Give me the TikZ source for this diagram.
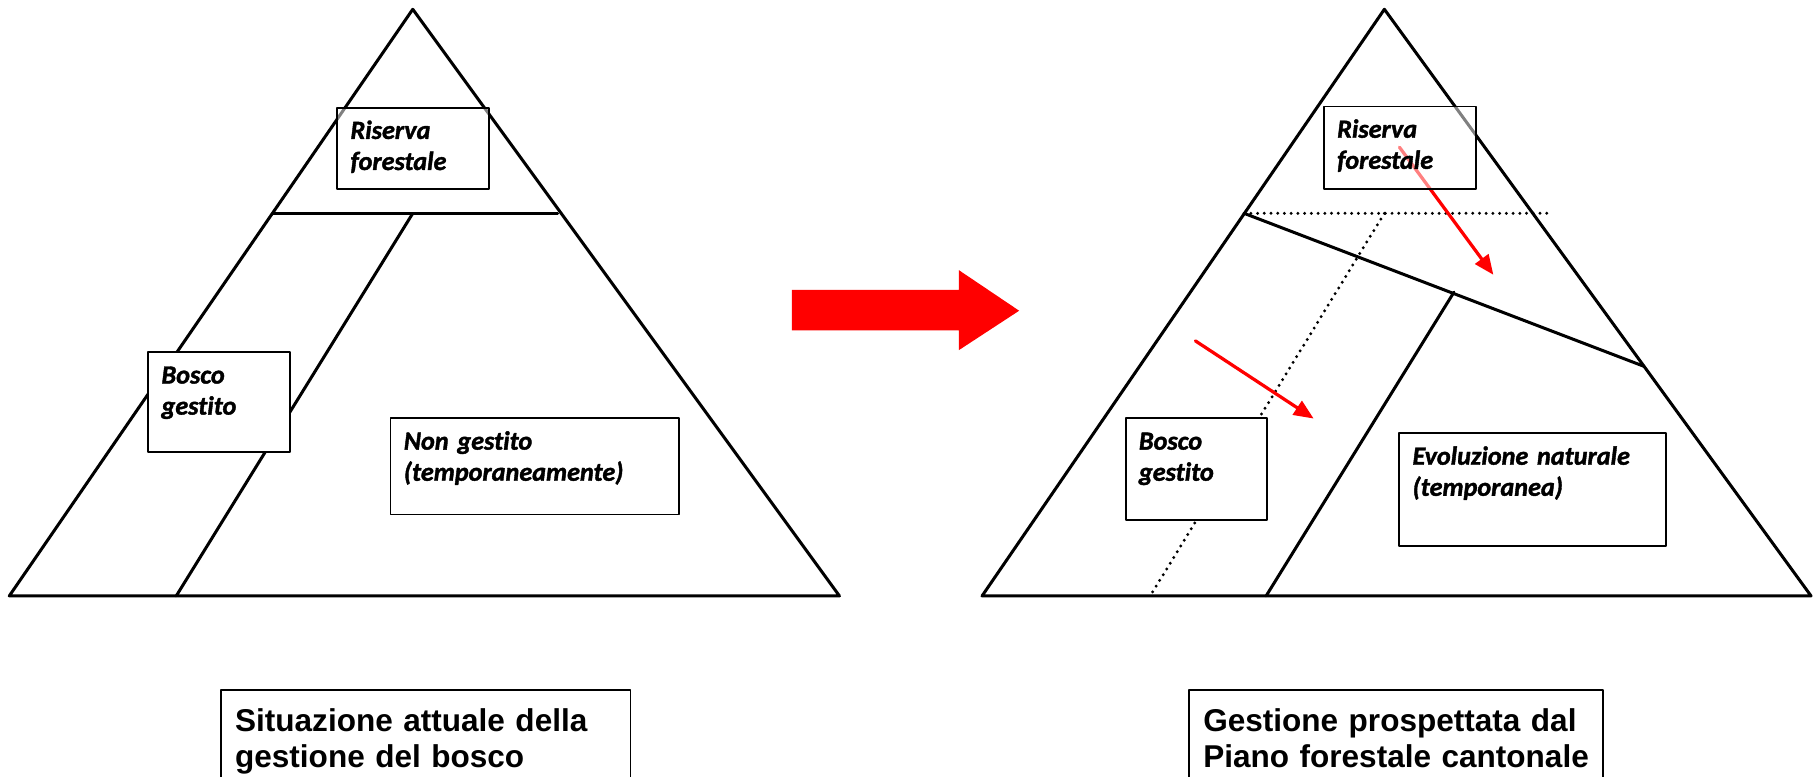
\documentclass[tikz,border=0pt]{standalone}
\usepackage{fontspec}
\newfontfamily\calfont{Carlito}[Ligatures=CommonOff,BoldItalicFeatures={FakeBold=1.5}]
\newfontfamily\arifont{Liberation Sans}
\usetikzlibrary{arrows.meta}
\definecolor{ffqqqq}{rgb}{1.,0.,0.}
\tikzset{
  tagbox/.style={draw=black,line width=1.6pt,fill=white,anchor=north west,
    inner xsep=11.5pt,inner ysep=0pt,text height=27pt,text depth=#1,align=left,
    font=\calfont\bfseries\itshape\fontsize{22.6}{26.8}\selectfont},
  titlebox/.style={draw=black,line width=1.6pt,fill=white,anchor=north west,
    inner xsep=12pt,inner ysep=0pt,text height=36pt,text depth=80pt,align=left,
    font=\arifont\bfseries\fontsize{27.2}{31}\selectfont},
  dots/.style={line width=2.8pt,dash pattern=on 0pt off 5.8pt}
}
\begin{document}
\begin{tikzpicture}[line cap=round,line join=round,>={Triangle[length=17pt,width=14pt]},x=1pt,y=1pt,line width=2.6pt]
\clip(0,0) rectangle (1568,670);
\coordinate (la) at (356,662);
\coordinate (lb) at (8,156);
\coordinate (lc) at (724,156);
\coordinate (lh1) at (235,486);
\coordinate (lh2) at (481,486);
\coordinate (ld1) at (356,486);
\coordinate (ld2) at (152,156);
\draw (la)-- (lb)-- (lc)-- cycle;
\draw (lh1)-- (lh2);
\draw (ld1)-- (ld2);
\fill [ffqqqq] (683,385)-- (827,385)-- (827,368)-- (879,402)-- (827,437)-- (827,420)-- (683,420)-- cycle;
\coordinate (ra) at (1194,662);
\coordinate (rb) at (847,156);
\coordinate (rc) at (1562,156);
\coordinate (rh1) at (1073,486);
\coordinate (rh2) at (1337,486);
\coordinate (rh3) at (1418,354);
\coordinate (rd1) at (1194,486);
\coordinate (rd2) at (992,156);
\coordinate (rs1) at (1254,418);
\coordinate (rs2) at (1092,156);
\draw (ra)-- (rb)-- (rc)-- cycle;
\draw [dots] (rh1)-- (rh2);
\draw [dots] (rd1)-- (rd2);
\draw (rh1)-- (rh3);
\draw (rs1)-- (rs2);
\coordinate (ar1) at (1207,543);
\coordinate (ar2) at (1288,433);
\coordinate (ar3) at (1031,376);
\coordinate (ar4) at (1133,309);
\draw [->,ffqqqq,line width=2.8pt] (ar1)-- (ar2);
\draw [->,ffqqqq,line width=2.8pt] (ar3)-- (ar4);
\node [tagbox=43pt,fill opacity=0.5,text opacity=1,text width=108pt] (rl) at (290,578) {Riserva\\forestale};
\node [tagbox=59pt,text width=99pt] (bl) at (127,367) {Bosco\\gestito};
\node [tagbox=56pt,text width=226pt] (nl) at (336,310) {Non gestito\\(temporaneamente)};
\node [tagbox=44pt,fill opacity=0.5,text opacity=1,text width=108pt] (rr) at (1141,579) {Riserva\\forestale};
\node [tagbox=61pt,text width=99pt] (br) at (970,310) {Bosco\\gestito};
\node [tagbox=70pt,text width=207pt] (er) at (1206,297) {Evoluzione naturale\\(temporanea)};
\node [titlebox,text width=329pt] (tl) at (190,76) {Situazione attuale della\\gestione del bosco};
\node [titlebox,text width=333pt] (tr) at (1025,76) {Gestione prospettata dal\\Piano forestale cantonale};
\end{tikzpicture}
\end{document}
